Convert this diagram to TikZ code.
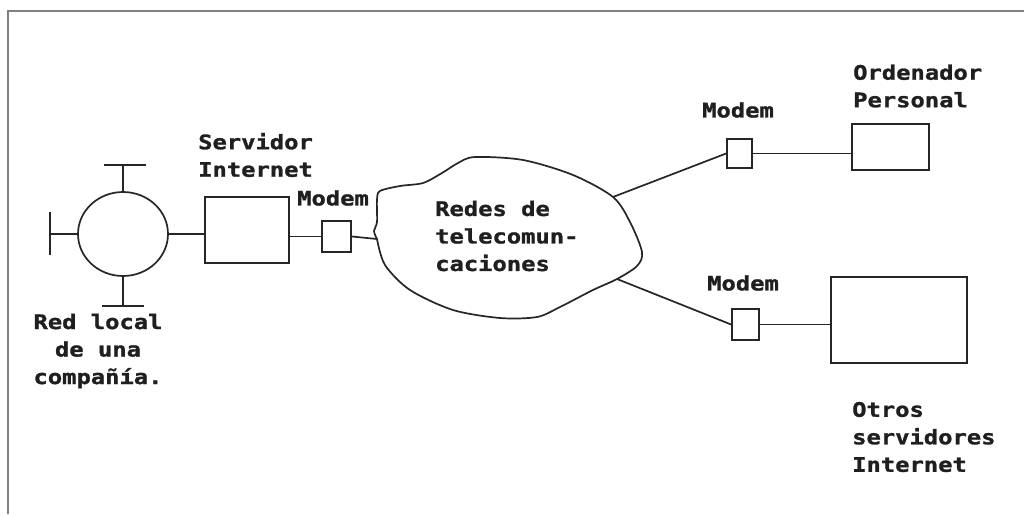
\documentclass[tikz,border=0pt]{standalone}
\usepackage{fontspec}
\newfontfamily\labfont[FakeStretch=1.19, FakeBold=1.3]{DejaVu Sans Mono}
\usetikzlibrary{shapes.geometric}
\tikzset{
  ln/.style={draw=black!85, line width=1.7pt},
  boxn/.style={draw=black!85, line width=1.7pt, rectangle, inner sep=0pt, fill=white},
  lab/.style={inner sep=0pt, font=\labfont\bfseries\fontsize{20}{27.5}\selectfont, text=black!88},
  framel/.style={draw=black!50, line width=1.8pt}
}
\begin{document}
\begin{tikzpicture}[x=1pt,y=-1pt]
\useasboundingbox[fill=white] (0,0) rectangle (1024,514);
% frame
\coordinate (f1) at (8,514);
\coordinate (f2) at (8,11);
\coordinate (f3) at (1024,11);
\draw[framel] (f1) -- (f2) -- (f3);

% local network
\node[ellipse, draw=black!85, line width=1.7pt, minimum width=90pt, minimum height=84pt, inner sep=0pt] (lan) at (123,234) {};
\coordinate (topstub) at (123,165);
\coordinate (topbarL) at (104,165);
\coordinate (topbarR) at (146,165);
\coordinate (leftstub) at (50,234);
\coordinate (leftbarT) at (50,212);
\coordinate (leftbarB) at (50,255);
\coordinate (botstub) at (123,306);
\coordinate (botbarL) at (102,306);
\coordinate (botbarR) at (144,306);
\draw[ln] (lan.north) -- (topstub);
\draw[ln] (topbarL) -- (topbarR);
\draw[ln] (lan.west) -- (leftstub);
\draw[ln] (leftbarT) -- (leftbarB);
\draw[ln] (lan.south) -- (botstub);
\draw[ln] (botbarL) -- (botbarR);

% boxes
\node[boxn, minimum width=84pt, minimum height=66pt] (server) at (247,230) {};
\node[boxn, minimum width=29pt, minimum height=31pt] (m1) at (336.5,236.5) {};
\node[boxn, minimum width=25pt, minimum height=29pt] (m2) at (739.5,153.5) {};
\node[boxn, minimum width=77pt, minimum height=46pt] (pc) at (890.5,147) {};
\node[boxn, minimum width=27pt, minimum height=31pt] (m3) at (745.5,324.5) {};
\node[boxn, minimum width=136pt, minimum height=86pt] (big) at (899,320) {};

% cloud
\coordinate (cloudL) at (377,239);
\coordinate (cloudUR) at (613,197);
\coordinate (cloudLR) at (617,279);
\draw[ln] plot[smooth, tension=0.5] coordinates{(377,239) (374,231) (377,222) (377,200) (380,191) (400,186) (423,183) (442,173) (458,163) (475,157) (523,160) (573,175) (613,197) (630,222) (642,252) (637,266) (617,279) (593,290) (560,307) (537,317) (500,318) (453,310) (410,290) (385,265) (377,239)};

% connectors
\draw[ln] (lan.east) -- (lan.east -| server.west);
\draw[ln] (server.east |- m1.west) -- (m1.west);
\draw[ln] (m1.east) -- (cloudL);
\draw[ln] (cloudUR) -- (m2.west);
\draw[ln] (m2.east) -- (m2.east -| pc.west);
\draw[ln] (cloudLR) -- (m3.west);
\draw[ln] (m3.east) -- (m3.east -| big.west);

% labels
\node[lab, anchor=west, align=left] (tServer) at (198,155) {Servidor\\Internet};
\node[lab, anchor=west] (tM1) at (297,198) {Modem};
\node[lab, anchor=west, align=left] (tCloud) at (435,236) {Redes de\\telecomun-\\caciones};
\node[lab, anchor=west] (tM2) at (702,110) {Modem};
\node[lab, anchor=west, align=left] (tPC) at (853,86) {Ordenador\\Personal};
\node[lab, anchor=west] (tM3) at (707,283) {Modem};
\node[lab, anchor=west, align=left] (tOtros) at (852,437) {Otros\\servidores\\Internet};
\node[lab, align=center] (tLan) at (98,351) {Red local\\de una\\compañía.};
\end{tikzpicture}
\end{document}
